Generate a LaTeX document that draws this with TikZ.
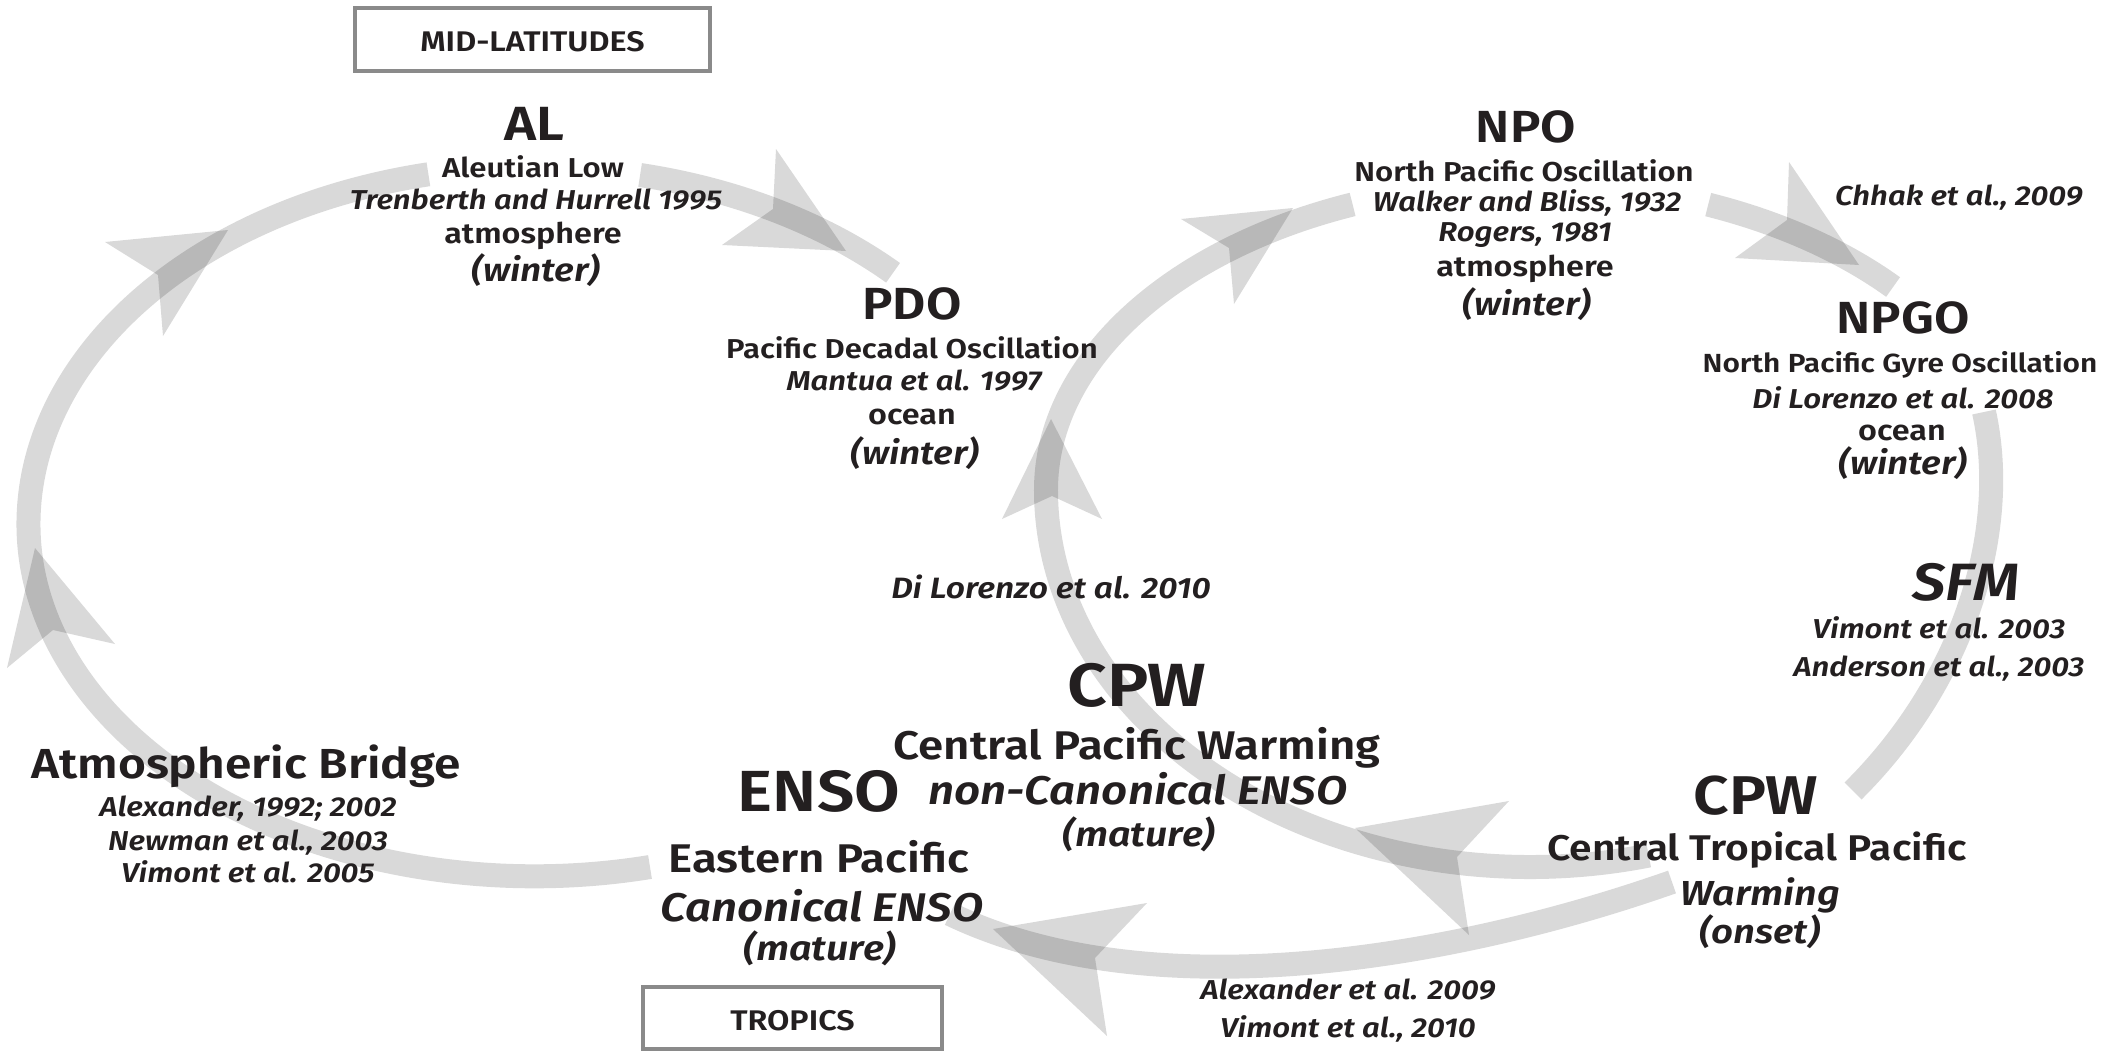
\documentclass[tikz,border=0pt]{standalone}
\usepackage{fontspec}
\setmainfont{Fira Sans SemiBold}[ItalicFont={Fira Sans SemiBold Italic},FakeStretch=1.14]
\newcommand\txtsize[1]{\fontsize{#1pt}{#1pt}\selectfont}
\definecolor{ink}{HTML}{231F20}
\definecolor{bandgray}{HTML}{D9D9D9}
\definecolor{framegray}{HTML}{8A8A8A}
\begin{document}
\begin{tikzpicture}[x=1pt,y=-1pt,
  lbl/.style={text=ink, inner sep=0pt, anchor=base},
  ttl/.style={lbl, font=\txtsize{45}},
  sub/.style={lbl, font=\txtsize{27.3}},
  cite/.style={lbl, font=\itshape\txtsize{27.3}},
  medium/.style={lbl, font=\txtsize{28.4}},
  season/.style={lbl, font=\itshape\txtsize{32.5}},
  loop/.style={draw=bandgray, line width=24pt},
  barb/.style={fill=black, fill opacity=0.15},
  regionbox/.style={draw=framegray, line width=4.5pt, text=ink, font=\txtsize{28.4},
    inner sep=0pt, text height=24pt, text depth=0pt}]
\useasboundingbox (0,0) rectangle (2102,1057);

% ---------- end points of the feedback bands ----------
\coordinate (ensoW)  at (650,867);
\coordinate (alE)    at (640.1,175);
\coordinate (cpwS)   at (1648.7,855.5);
\coordinate (npoE)   at (1708.2,204.6);
\coordinate (npgoS)  at (1984,412);
\coordinate (cpwrN)  at (1853,791);
\coordinate (cpwrW)  at (1672,882);
\coordinate (ensoE)  at (950,914);

% ---------- bands ----------
% ENSO -> atmospheric bridge -> AL, then AL -> PDO
\draw[loop] (ensoW) arc[start angle=76.8, end angle=180, x radius=506, y radius=352]
                    arc[start angle=180, end angle=257.9, x radius=506, y radius=358];
\draw[loop] (alE) arc[start angle=282.1, end angle=315.2, x radius=506, y radius=358];
% CPW (onset) -> CPW (mature) -> NPO, then NPO -> NPGO
\draw[loop] (cpwS) arc[start angle=75.8, end angle=180, x radius=484, y radius=377]
                   arc[start angle=180, end angle=248.5, x radius=484, y radius=307];
\draw[loop] (npoE) arc[start angle=291.6, end angle=318.6, x radius=484, y radius=307];
% NPGO -> SFM -> CPW (onset)
\draw[loop] (npgoS) .. controls (2010,530) and (1965,680) .. (cpwrN);
% CPW (onset) -> ENSO
\draw[loop] (cpwrW) .. controls (1450,960) and (1150,1010) .. (ensoE);

% ---------- arrow heads ----------
\fill[barb] (35,548) -- (7,668) -- (53,630) -- (115,644) -- cycle;
\fill[barb] (228,230) -- (105,242) -- (158,275) -- (163,336) -- cycle;
\fill[barb] (846,251) -- (776,149) -- (773,209) -- (722,245) -- cycle;
\fill[barb] (1051,419) -- (1002,519) -- (1052,496) -- (1102,519) -- cycle;
\fill[barb] (1293,208) -- (1181,219) -- (1229,248) -- (1234,304) -- cycle;
\fill[barb] (1859,265) -- (1789,162) -- (1787,220) -- (1735,258) -- cycle;
\fill[barb] (1355,828) -- (1509,801) -- (1457,857) -- (1469,935) -- cycle;
\fill[barb] (993,929) -- (1147,903) -- (1095,958) -- (1107,1036) -- cycle;

% ---------- region boxes ----------
\node[regionbox, minimum width=355pt, minimum height=63pt] (midlat) at (532.5,39.5) {MID-LATITUDES};
\node[regionbox, minimum width=299pt, minimum height=62pt] (tropics) at (792.5,1018) {TROPICS};

% ---------- Aleutian Low ----------
\node[ttl, font=\txtsize{48}] (al)  at (534,140) {AL};
\node[sub]    (al1) at (533,177) {Aleutian Low};
\node[cite]   (al2) at (536,209) {Trenberth and Hurrell 1995};
\node[medium] (al3) at (533,243) {atmosphere};
\node[season] (al4) at (536,281) {(winter)};

% ---------- PDO ----------
\node[ttl]    (pdo)  at (912,319) {PDO};
\node[sub]    (pdo1) at (912,358) {Pacific Decadal Oscillation};
\node[cite]   (pdo2) at (914,390) {Mantua et al. 1997};
\node[medium] (pdo3) at (912,424) {ocean};
\node[season] (pdo4) at (915,464) {(winter)};

% ---------- NPO ----------
\node[ttl]    (npo)  at (1526,142) {NPO};
\node[sub]    (npo1) at (1524,181) {North Pacific Oscillation};
\node[cite]   (npo2) at (1527,211) {Walker and Bliss, 1932};
\node[cite]   (npo3) at (1525,241) {Rogers, 1981};
\node[medium] (npo4) at (1525,276) {atmosphere};
\node[season] (npo5) at (1527,315) {(winter)};

\node[cite] (chhak) at (1959,205) {Chhak et al., 2009};

% ---------- NPGO ----------
\node[ttl]    (npgo)  at (1903,333) {NPGO};
\node[sub, font=\txtsize{26.2}] (npgo1) at (1900,372) {North Pacific Gyre Oscillation};
\node[cite]   (npgo2) at (1903,408) {Di Lorenzo et al. 2008};
\node[medium] (npgo3) at (1902,440) {ocean};
\node[season] (npgo4) at (1903,474) {(winter)};

% ---------- seasonal footprinting ----------
\node[lbl, font=\itshape\txtsize{52.5}] (sfm) at (1966,600) {SFM};
\node[cite] (sfm1) at (1939,638) {Vimont et al. 2003};
\node[cite] (sfm2) at (1939,676) {Anderson et al., 2003};

\node[cite, font=\itshape\txtsize{29.4}] (dl10) at (1051,598) {Di Lorenzo et al. 2010};

% ---------- CPW (mature) ----------
\node[lbl, font=\txtsize{61}] (cpw)  at (1137,706) {CPW};
\node[lbl, font=\txtsize{40}] (cpw1) at (1137,759) {Central Pacific Warming};
\node[lbl, font=\itshape\txtsize{40}] (cpw2) at (1138,804) {non-Canonical ENSO};
\node[lbl, font=\itshape\txtsize{34.7}] (cpw3) at (1139,846) {(mature)};

% ---------- ENSO ----------
\node[lbl, font=\txtsize{58}] (enso)  at (819,811) {ENSO};
\node[lbl, font=\txtsize{40}] (enso1) at (819,872) {Eastern Pacific};
\node[lbl, font=\itshape\txtsize{40}] (enso2) at (822,921) {Canonical ENSO};
\node[lbl, font=\itshape\txtsize{34.7}] (enso3) at (820,960) {(mature)};

% ---------- atmospheric bridge ----------
\node[lbl, font=\txtsize{42}] (bridge) at (246,778) {Atmospheric Bridge};
\node[cite] (ab1) at (248,816) {Alexander, 1992; 2002};
\node[cite] (ab2) at (248,850) {Newman et al., 2003};
\node[cite] (ab3) at (248,882) {Vimont et al. 2005};

% ---------- CPW (onset) ----------
\node[lbl, font=\txtsize{54.6}] (cpwr)  at (1756,814) {CPW};
\node[lbl, font=\txtsize{35.7}] (cpwr1) at (1757,860) {Central Tropical Pacific};
\node[lbl, font=\itshape\txtsize{34.7}] (cpwr2) at (1760,905) {Warming};
\node[lbl, font=\itshape\txtsize{33.6}] (cpwr3) at (1760,943) {(onset)};

\node[cite] (bt1) at (1348,999)  {Alexander et al. 2009};
\node[cite] (bt2) at (1348,1037) {Vimont et al., 2010};
\end{tikzpicture}
\end{document}
